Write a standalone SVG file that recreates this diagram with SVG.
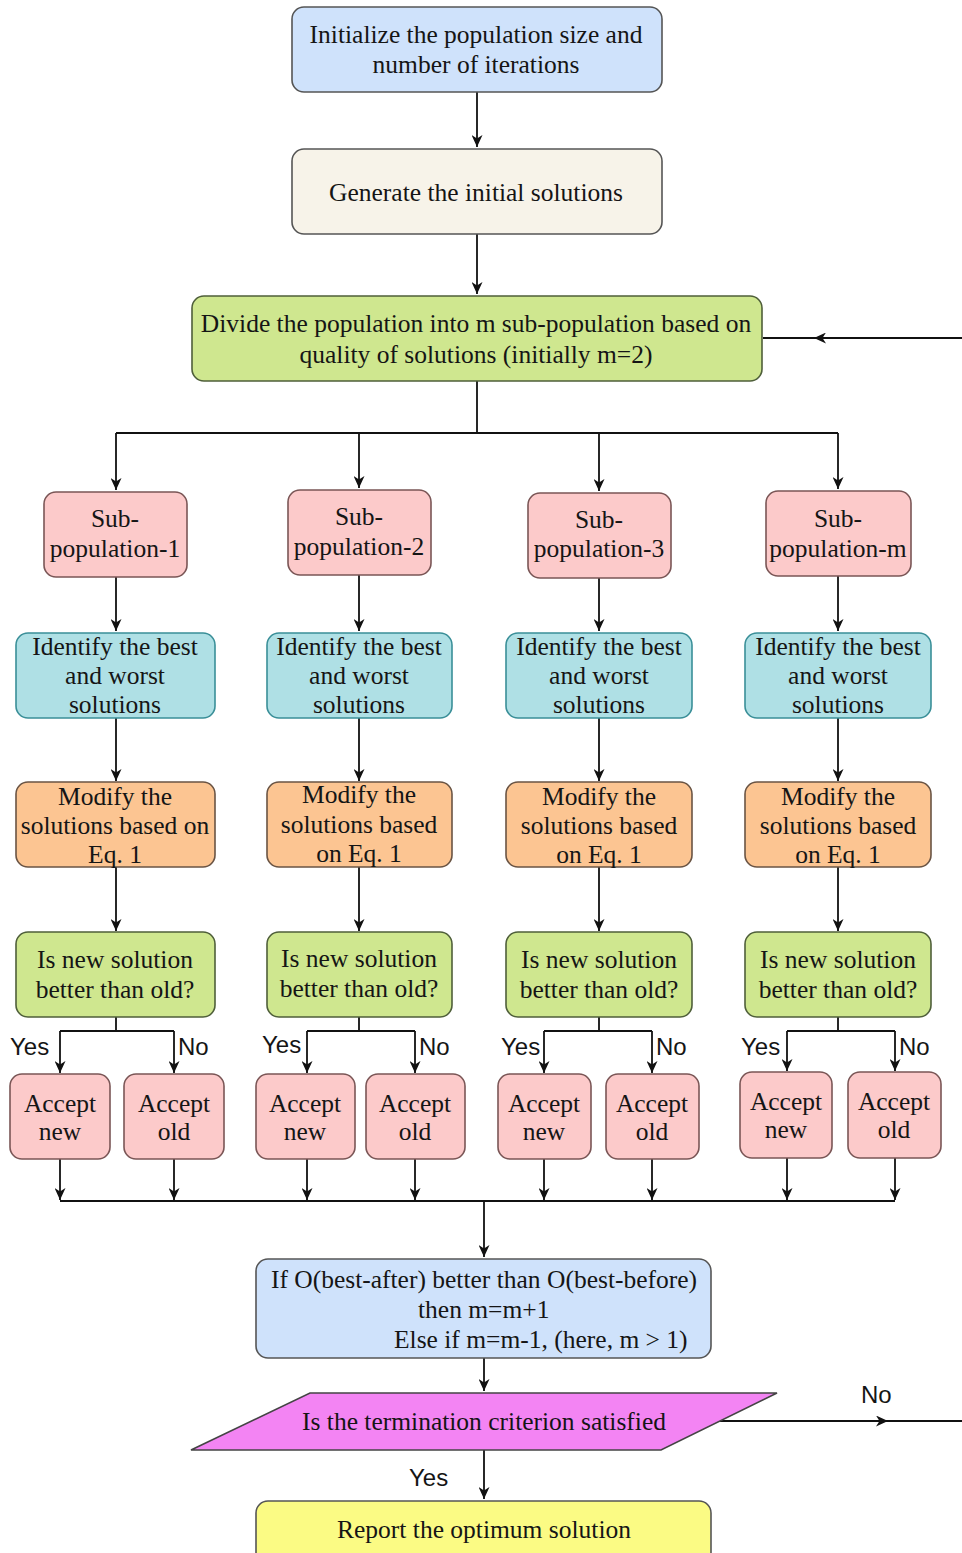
<svg xmlns="http://www.w3.org/2000/svg" width="962" height="1553" viewBox="0 0 962 1553">
<defs>
<marker id="arr" viewBox="0 0 12 11" refX="12" refY="5.5" markerWidth="12" markerHeight="11" markerUnits="userSpaceOnUse" orient="auto">
<path d="M0,0 L12,5.5 L0,11 L3.5,5.5 z" fill="#111"/>
</marker>
<marker id="arrm" viewBox="0 0 12 11" refX="6" refY="5.5" markerWidth="12" markerHeight="11" markerUnits="userSpaceOnUse" orient="auto">
<path d="M0,0 L12,5.5 L0,11 L3.5,5.5 z" fill="#111"/>
</marker>
<style>
.t{font-family:"Liberation Serif","Times New Roman",serif;font-size:25.5px;fill:#151515;text-anchor:middle}
.s{font-family:"Liberation Sans",Arial,sans-serif;font-size:24px;fill:#151515}
.c{fill:none;stroke:#111;stroke-width:1.8}
.a{marker-end:url(#arr)}
.box{stroke:#555;stroke-width:1.6}
.blue{fill:#cfe2fb}
.cream{fill:#f7f3e9}
.green{fill:#cfe78f;stroke:#4f5f3a}
.pink{fill:#fccaca;stroke:#7a5656}
.cyan{fill:#afe0e5;stroke:#3a8f98}
.orange{fill:#fcc592;stroke:#6a5444}
.mag{fill:#f384f3;stroke:#444}
.yel{fill:#fbfb84;stroke:#555}
</style>
</defs>
<rect width="962" height="1553" fill="#ffffff"/>

<g id="connectors">
<path class="c a" d="M477 92 V147"/>
<path class="c a" d="M477 234 V294"/>
<path class="c" d="M962 338 L820 338 L763 338" marker-mid="url(#arrm)"/>
<path class="c" d="M477 381 V433 M116 433 H838"/>
<path class="c a" d="M116 433 V490"/>
<path class="c a" d="M359 433 V488"/>
<path class="c a" d="M599 433 V491"/>
<path class="c a" d="M838 433 V489"/>
<path class="c a" d="M116 577 V631"/>
<path class="c a" d="M359 575 V631"/>
<path class="c a" d="M599 578 V631"/>
<path class="c a" d="M838 576 V631"/>
<path class="c a" d="M116 718 V781"/>
<path class="c a" d="M359 718 V781"/>
<path class="c a" d="M599 718 V781"/>
<path class="c a" d="M838 718 V781"/>
<path class="c a" d="M116 867 V931"/>
<path class="c a" d="M359 867 V931"/>
<path class="c a" d="M599 867 V931"/>
<path class="c a" d="M838 867 V931"/>
<path class="c" d="M116 1017 V1031 M60 1031 H174"/>
<path class="c a" d="M60 1031 V1073"/>
<path class="c a" d="M174 1031 V1073"/>
<path class="c" d="M359 1017 V1031 M307 1031 H415"/>
<path class="c a" d="M307 1031 V1073"/>
<path class="c a" d="M415 1031 V1073"/>
<path class="c" d="M599 1017 V1031 M544 1031 H652"/>
<path class="c a" d="M544 1031 V1073"/>
<path class="c a" d="M652 1031 V1073"/>
<path class="c" d="M838 1017 V1031 M787 1031 H895"/>
<path class="c a" d="M787 1031 V1071"/>
<path class="c a" d="M895 1031 V1071"/>
<path class="c a" d="M60 1159 V1200"/>
<path class="c a" d="M174 1159 V1200"/>
<path class="c a" d="M307 1159 V1200"/>
<path class="c a" d="M415 1159 V1200"/>
<path class="c a" d="M544 1159 V1200"/>
<path class="c a" d="M652 1159 V1200"/>
<path class="c a" d="M787 1158 V1200"/>
<path class="c a" d="M895 1158 V1200"/>
<path class="c" d="M60 1201 H895"/>
<path class="c a" d="M484 1201 V1257"/>
<path class="c a" d="M484 1358 V1391"/>
<path class="c a" d="M484 1450 V1499"/>
<path class="c" d="M717 1421 L882 1421 L962 1421" marker-mid="url(#arrm)"/>
<text class="s" x="10" y="1055">Yes</text>
<text class="s" x="178" y="1055">No</text>
<text class="s" x="262" y="1053">Yes</text>
<text class="s" x="419" y="1055">No</text>
<text class="s" x="501" y="1055">Yes</text>
<text class="s" x="656" y="1055">No</text>
<text class="s" x="741" y="1055">Yes</text>
<text class="s" x="899" y="1055">No</text>
<text class="s" x="861" y="1403">No</text>
<text class="s" x="409" y="1486">Yes</text>
</g>

<g id="init">
<rect class="box blue" x="292" y="7" width="370" height="85" rx="12"/>
<text class="t" x="476" y="43">Initialize the population size and</text>
<text class="t" x="476" y="73">number of iterations</text>
</g>
<g id="generate">
<rect class="box cream" x="292" y="149" width="370" height="85" rx="12"/>
<text class="t" x="476" y="201">Generate the initial solutions</text>
</g>
<g id="divide">
<rect class="box green" x="192" y="296" width="570" height="85" rx="12"/>
<text class="t" x="476" y="332">Divide the population into m sub-population based on</text>
<text class="t" x="476" y="363">quality of solutions (initially m=2)</text>
</g>

<g id="sub1">
<rect class="box pink" x="44" y="492" width="143" height="85" rx="12"/>
<text class="t" x="115" y="527">Sub-</text>
<text class="t" x="115" y="557">population-1</text>
</g>
<g id="sub2">
<rect class="box pink" x="288" y="490" width="143" height="85" rx="12"/>
<text class="t" x="359" y="525">Sub-</text>
<text class="t" x="359" y="555">population-2</text>
</g>
<g id="sub3">
<rect class="box pink" x="528" y="493" width="143" height="85" rx="12"/>
<text class="t" x="599" y="528">Sub-</text>
<text class="t" x="599" y="557">population-3</text>
</g>
<g id="subm">
<rect class="box pink" x="766" y="491" width="145" height="85" rx="12"/>
<text class="t" x="838" y="527">Sub-</text>
<text class="t" x="838" y="557">population-m</text>
</g>

<g id="ident1">
<rect class="box cyan" x="16" y="633" width="199" height="85" rx="12"/>
<text class="t" x="115" y="655">Identify the best</text>
<text class="t" x="115" y="684">and worst</text>
<text class="t" x="115" y="713">solutions</text>
</g>
<g id="ident2">
<rect class="box cyan" x="267" y="633" width="185" height="85" rx="12"/>
<text class="t" x="359" y="655">Identify the best</text>
<text class="t" x="359" y="684">and worst</text>
<text class="t" x="359" y="713">solutions</text>
</g>
<g id="ident3">
<rect class="box cyan" x="506" y="633" width="186" height="85" rx="12"/>
<text class="t" x="599" y="655">Identify the best</text>
<text class="t" x="599" y="684">and worst</text>
<text class="t" x="599" y="713">solutions</text>
</g>
<g id="identm">
<rect class="box cyan" x="745" y="633" width="186" height="85" rx="12"/>
<text class="t" x="838" y="655">Identify the best</text>
<text class="t" x="838" y="684">and worst</text>
<text class="t" x="838" y="713">solutions</text>
</g>

<g id="mod1">
<rect class="box orange" x="16" y="782" width="199" height="85" rx="12"/>
<text class="t" x="115" y="805">Modify the</text>
<text class="t" x="115" y="834">solutions based on</text>
<text class="t" x="115" y="863">Eq. 1</text>
</g>
<g id="mod2">
<rect class="box orange" x="267" y="782" width="185" height="85" rx="12"/>
<text class="t" x="359" y="803">Modify the</text>
<text class="t" x="359" y="833">solutions based</text>
<text class="t" x="359" y="862">on Eq. 1</text>
</g>
<g id="mod3">
<rect class="box orange" x="506" y="782" width="186" height="85" rx="12"/>
<text class="t" x="599" y="805">Modify the</text>
<text class="t" x="599" y="834">solutions based</text>
<text class="t" x="599" y="863">on Eq. 1</text>
</g>
<g id="modm">
<rect class="box orange" x="745" y="782" width="186" height="85" rx="12"/>
<text class="t" x="838" y="805">Modify the</text>
<text class="t" x="838" y="834">solutions based</text>
<text class="t" x="838" y="863">on Eq. 1</text>
</g>

<g id="isnew1">
<rect class="box green" x="16" y="932" width="199" height="85" rx="12"/>
<text class="t" x="115" y="968">Is new solution</text>
<text class="t" x="115" y="998">better than old?</text>
</g>
<g id="isnew2">
<rect class="box green" x="267" y="932" width="185" height="85" rx="12"/>
<text class="t" x="359" y="967">Is new solution</text>
<text class="t" x="359" y="997">better than old?</text>
</g>
<g id="isnew3">
<rect class="box green" x="506" y="932" width="186" height="85" rx="12"/>
<text class="t" x="599" y="968">Is new solution</text>
<text class="t" x="599" y="998">better than old?</text>
</g>
<g id="isnewm">
<rect class="box green" x="745" y="932" width="186" height="85" rx="12"/>
<text class="t" x="838" y="968">Is new solution</text>
<text class="t" x="838" y="998">better than old?</text>
</g>

<g id="accnew1">
<rect class="box pink" x="10" y="1074" width="100" height="85" rx="12"/>
<text class="t" x="60" y="1112">Accept</text>
<text class="t" x="60" y="1140">new</text>
</g>
<g id="accold1">
<rect class="box pink" x="124" y="1074" width="100" height="85" rx="12"/>
<text class="t" x="174" y="1112">Accept</text>
<text class="t" x="174" y="1140">old</text>
</g>
<g id="accnew2">
<rect class="box pink" x="256" y="1074" width="99" height="85" rx="12"/>
<text class="t" x="305" y="1112">Accept</text>
<text class="t" x="305" y="1140">new</text>
</g>
<g id="accold2">
<rect class="box pink" x="366" y="1074" width="99" height="85" rx="12"/>
<text class="t" x="415" y="1112">Accept</text>
<text class="t" x="415" y="1140">old</text>
</g>
<g id="accnew3">
<rect class="box pink" x="498" y="1074" width="93" height="85" rx="12"/>
<text class="t" x="544" y="1112">Accept</text>
<text class="t" x="544" y="1140">new</text>
</g>
<g id="accold3">
<rect class="box pink" x="606" y="1074" width="93" height="85" rx="12"/>
<text class="t" x="652" y="1112">Accept</text>
<text class="t" x="652" y="1140">old</text>
</g>
<g id="accnewm">
<rect class="box pink" x="740" y="1072" width="92" height="86" rx="12"/>
<text class="t" x="786" y="1110">Accept</text>
<text class="t" x="786" y="1138">new</text>
</g>
<g id="accoldm">
<rect class="box pink" x="848" y="1072" width="93" height="86" rx="12"/>
<text class="t" x="894" y="1110">Accept</text>
<text class="t" x="894" y="1138">old</text>
</g>

<g id="update">
<rect class="box blue" x="256" y="1259" width="455" height="99" rx="12"/>
<text class="t" x="484" y="1288">If O(best-after) better than O(best-before)</text>
<text class="t" x="418" y="1318" style="text-anchor:start">then m=m+1</text>
<text class="t" x="394" y="1348" style="text-anchor:start">Else if m=m-1, (here, m &gt; 1)</text>
</g>
<g id="termination">
<polygon class="mag" stroke-width="1.6" points="310,1393 777,1393 661,1450 191,1450"/>
<text class="t" x="484" y="1430">Is the termination criterion satisfied</text>
</g>
<g id="report">
<rect class="box yel" x="256" y="1501" width="455" height="70" rx="12"/>
<text class="t" x="484" y="1538">Report the optimum solution</text>
</g>
</svg>
